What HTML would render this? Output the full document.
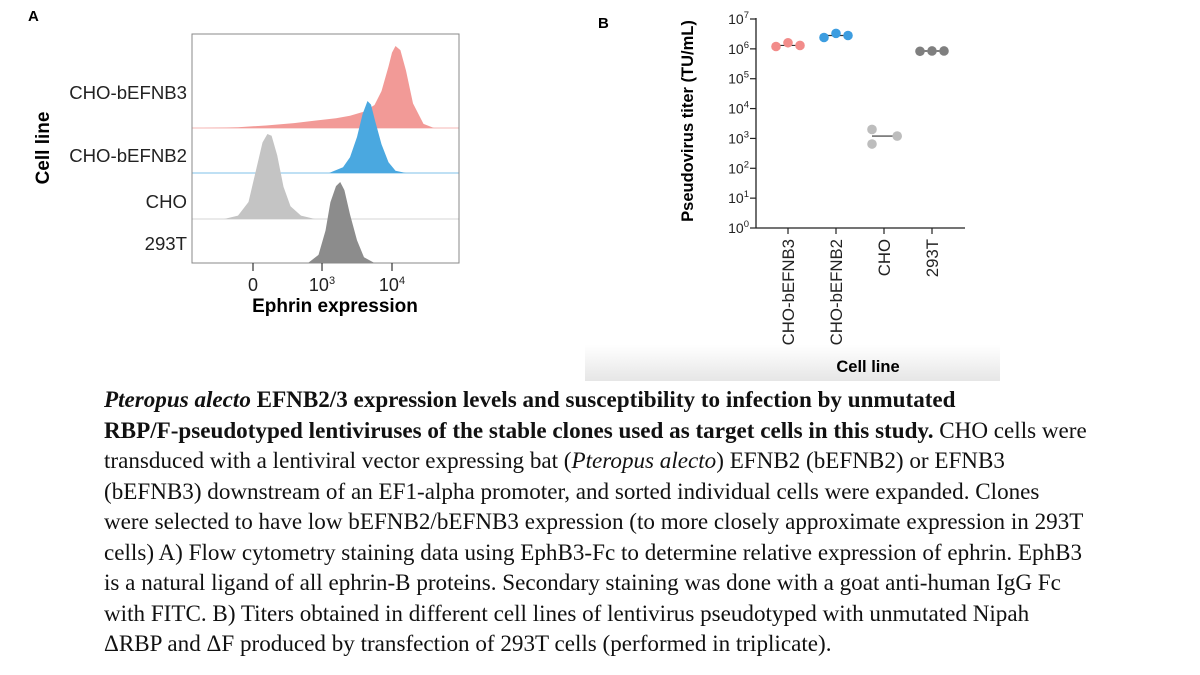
<!DOCTYPE html>
<html><head><meta charset="utf-8"><style>
body{margin:0;background:#fff;width:1200px;height:675px;overflow:hidden;position:relative;font-family:"Liberation Sans",sans-serif}
#cap{position:absolute;left:104px;top:384px;width:1090px;font-family:"Liberation Serif",serif;font-size:23.1px;line-height:30.5px;color:#111}
#cap div{white-space:nowrap}
</style></head><body>
<svg width="1200" height="385" style="position:absolute;left:0;top:0">
<defs><linearGradient id="g" x1="0" y1="0" x2="0" y2="1"><stop offset="0" stop-color="#fff"/><stop offset="1" stop-color="#e6e6e6"/></linearGradient></defs>
<rect x="585" y="345" width="415" height="36" fill="url(#g)"/>
<g id="pa"></g>
<g id="pb"></g>
</svg>
<div id="cap">
<div><b><i>Pteropus alecto</i> EFNB2/3 expression levels and susceptibility to infection by unmutated</b></div>
<div><b>RBP/F-pseudotyped lentiviruses of the stable clones used as target cells in this study.</b> CHO cells were</div>
<div>transduced with a lentiviral vector expressing bat (<i>Pteropus alecto</i>) EFNB2 (bEFNB2) or EFNB3</div>
<div>(bEFNB3) downstream of an EF1-alpha promoter, and sorted individual cells were expanded. Clones</div>
<div>were selected to have low bEFNB2/bEFNB3 expression (to more closely approximate expression in 293T</div>
<div>cells) A) Flow cytometry staining data using EphB3-Fc to determine relative expression of ephrin. EphB3</div>
<div>is a natural ligand of all ephrin-B proteins. Secondary staining was done with a goat anti-human IgG Fc</div>
<div>with FITC. B) Titers obtained in different cell lines of lentivirus pseudotyped with unmutated Nipah</div>
<div>ΔRBP and ΔF produced by transfection of 293T cells (performed in triplicate).</div>
</div>
<script>
// ---- Panel A data ----
const histNames=["CHO-bEFNB3","CHO-bEFNB2","CHO","293T"];
const histColors=["#f29a97","#4aa8e0","#c4c4c4","#8c8c8c"];
const histX=[
 [1.3,1.8,2.2,2.6,2.9,3.2,3.4,3.6,3.75,3.85,3.95,4.0,4.05,4.12,4.2,4.3,4.45,4.6],
 [3.1,3.3,3.4,3.5,3.58,3.65,3.7,3.76,3.85,3.95,4.05,4.2],
 [1.6,1.8,1.95,2.05,2.15,2.22,2.28,2.36,2.45,2.55,2.7,2.9],
 [2.8,2.95,3.05,3.12,3.2,3.26,3.32,3.4,3.5,3.6,3.75]];
const histY=[
 [0,0.01,0.03,0.06,0.09,0.12,0.15,0.2,0.28,0.45,0.75,0.92,1.0,0.95,0.7,0.3,0.05,0],
 [0,0.08,0.22,0.5,0.82,1.0,0.95,0.72,0.4,0.15,0.03,0],
 [0,0.04,0.2,0.55,0.9,1.0,0.98,0.75,0.38,0.15,0.04,0],
 [0,0.1,0.4,0.75,0.95,1.0,0.9,0.6,0.28,0.07,0]];
const histPeak=[82,72,85,81];
const aTickVals=[2.014,3,4];
const aTickLabels=["0","10<tspan dy='-7' font-size='11'>3</tspan>","10<tspan dy='-7' font-size='11'>4</tspan>"];
// ---- Panel B data ----
const cats=["CHO-bEFNB3","CHO-bEFNB2","CHO","293T"];
const catColors=["#f28c8a","#3d9de0","#bdbdbd","#7f7f7f"];
const titers=[[1.2e6,1.6e6,1.3e6],[2.4e6,3.3e6,2.8e6],[2.0e3,650,1.2e3],[8.3e5,8.5e5,8.5e5]];
const jitter=[[-1,0,1],[-1,0,1],[-1,-1,1.1],[-1,0,1]];
const bTicks=[0,1,2,3,4,5,6,7];

const NS="http://www.w3.org/2000/svg";
function mk(p,t,a){const e=document.createElementNS(NS,t);for(const k in a)e.setAttribute(k,a[k]);p.appendChild(e);return e;}
// Panel A
const A=document.getElementById('pa');
const ax=v=>253+(v-2.014)*(392-253)/(4-2.014);
const base=[128,173,219,263];
let t=mk(A,'text',{x:28,y:21,'font-size':15,'font-weight':'bold'});t.textContent='A';

histNames.forEach((n,i)=>{
 const b=base[i];
 let d='M'+ax(histX[i][0])+','+b;
 histX[i].forEach((x,j)=>{d+=' L'+ax(x).toFixed(1)+','+(b-histY[i][j]*histPeak[i]).toFixed(1);});
 d+=' L'+ax(histX[i][histX[i].length-1])+','+b+'Z';
 if(i<3){const l=mk(A,'line',{x1:192,x2:459,y1:b,y2:b,stroke:histColors[i],'stroke-width':1,opacity:0.7});
  }
 const p=mk(A,'path',{d:d,fill:histColors[i]});
 
});
const rowLabelY=[99,162,208,250];
histNames.forEach((n,i)=>{const e=mk(A,'text',{x:187,y:rowLabelY[i],'text-anchor':'end','font-size':18.6,fill:'#222'});e.textContent=n;
 });
let fr=mk(A,'rect',{x:192,y:34,width:267,height:229,fill:'none',stroke:'#888','stroke-width':1});

aTickVals.forEach((v,i)=>{const x=ax(v);
 const l=mk(A,'line',{x1:x,x2:x,y1:263,y2:271,stroke:'#333','stroke-width':1.2});
 
 const e=mk(A,'text',{x:x,y:291,'text-anchor':'middle','font-size':18,fill:'#222'});e.innerHTML=aTickLabels[i];
 });
t=mk(A,'text',{x:335,y:312,'text-anchor':'middle','font-size':19,'font-weight':'bold'});t.textContent='Ephrin expression';

t=mk(A,'text',{x:0,y:0,'text-anchor':'middle','font-size':19,'font-weight':'bold',transform:'translate(49,148) rotate(-90)'});t.textContent='Cell line';

// Panel B
const B=document.getElementById('pb');
const by=v=>228-(Math.log10(v))*(228-19)/7;
const bx=i=>788+i*48;
t=mk(B,'text',{x:598,y:28,'font-size':15,'font-weight':'bold'});t.textContent='B';

let l=mk(B,'line',{x1:756,x2:756,y1:18,y2:228,stroke:'#222','stroke-width':1.3});

l=mk(B,'line',{x1:756,x2:965,y1:228,y2:228,stroke:'#222','stroke-width':1.3});

bTicks.forEach(k=>{const y=by(Math.pow(10,k));
 const tl=mk(B,'line',{x1:750,x2:756,y1:y,y2:y,stroke:'#222','stroke-width':1.2});
 
 const e=mk(B,'text',{x:749,y:y+5,'text-anchor':'end','font-size':14,fill:'#222'});
 e.innerHTML='10<tspan dy="-6" font-size="9.5">'+k+'</tspan>';
 });
cats.forEach((c,i)=>{const x=bx(i);
 const tl=mk(B,'line',{x1:x,x2:x,y1:228,y2:234,stroke:'#222','stroke-width':1.2});
 
 const e=mk(B,'text',{x:0,y:0,'text-anchor':'end','font-size':16.8,fill:'#222',transform:'translate('+(x+6)+',239) rotate(-90)'});e.textContent=c;
 
 const s=titers[i].slice().sort((a,b)=>a-b);const med=s[1];
 const ml=mk(B,'line',{x1:x-12,x2:x+12,y1:by(med),y2:by(med),stroke:'#333','stroke-width':1.2});
 
 titers[i].forEach((v,j)=>{const p=mk(B,'circle',{cx:x+jitter[i][j]*12,cy:by(v),r:4.8,fill:catColors[i]});
  });
});
t=mk(B,'text',{x:0,y:0,'text-anchor':'middle','font-size':16.5,'font-weight':'bold',transform:'translate(693,121) rotate(-90)'});t.textContent='Pseudovirus titer (TU/mL)';

t=mk(B,'text',{x:868,y:372,'text-anchor':'middle','font-size':16.5,'font-weight':'bold'});t.textContent='Cell line';

</script>
</body></html>
